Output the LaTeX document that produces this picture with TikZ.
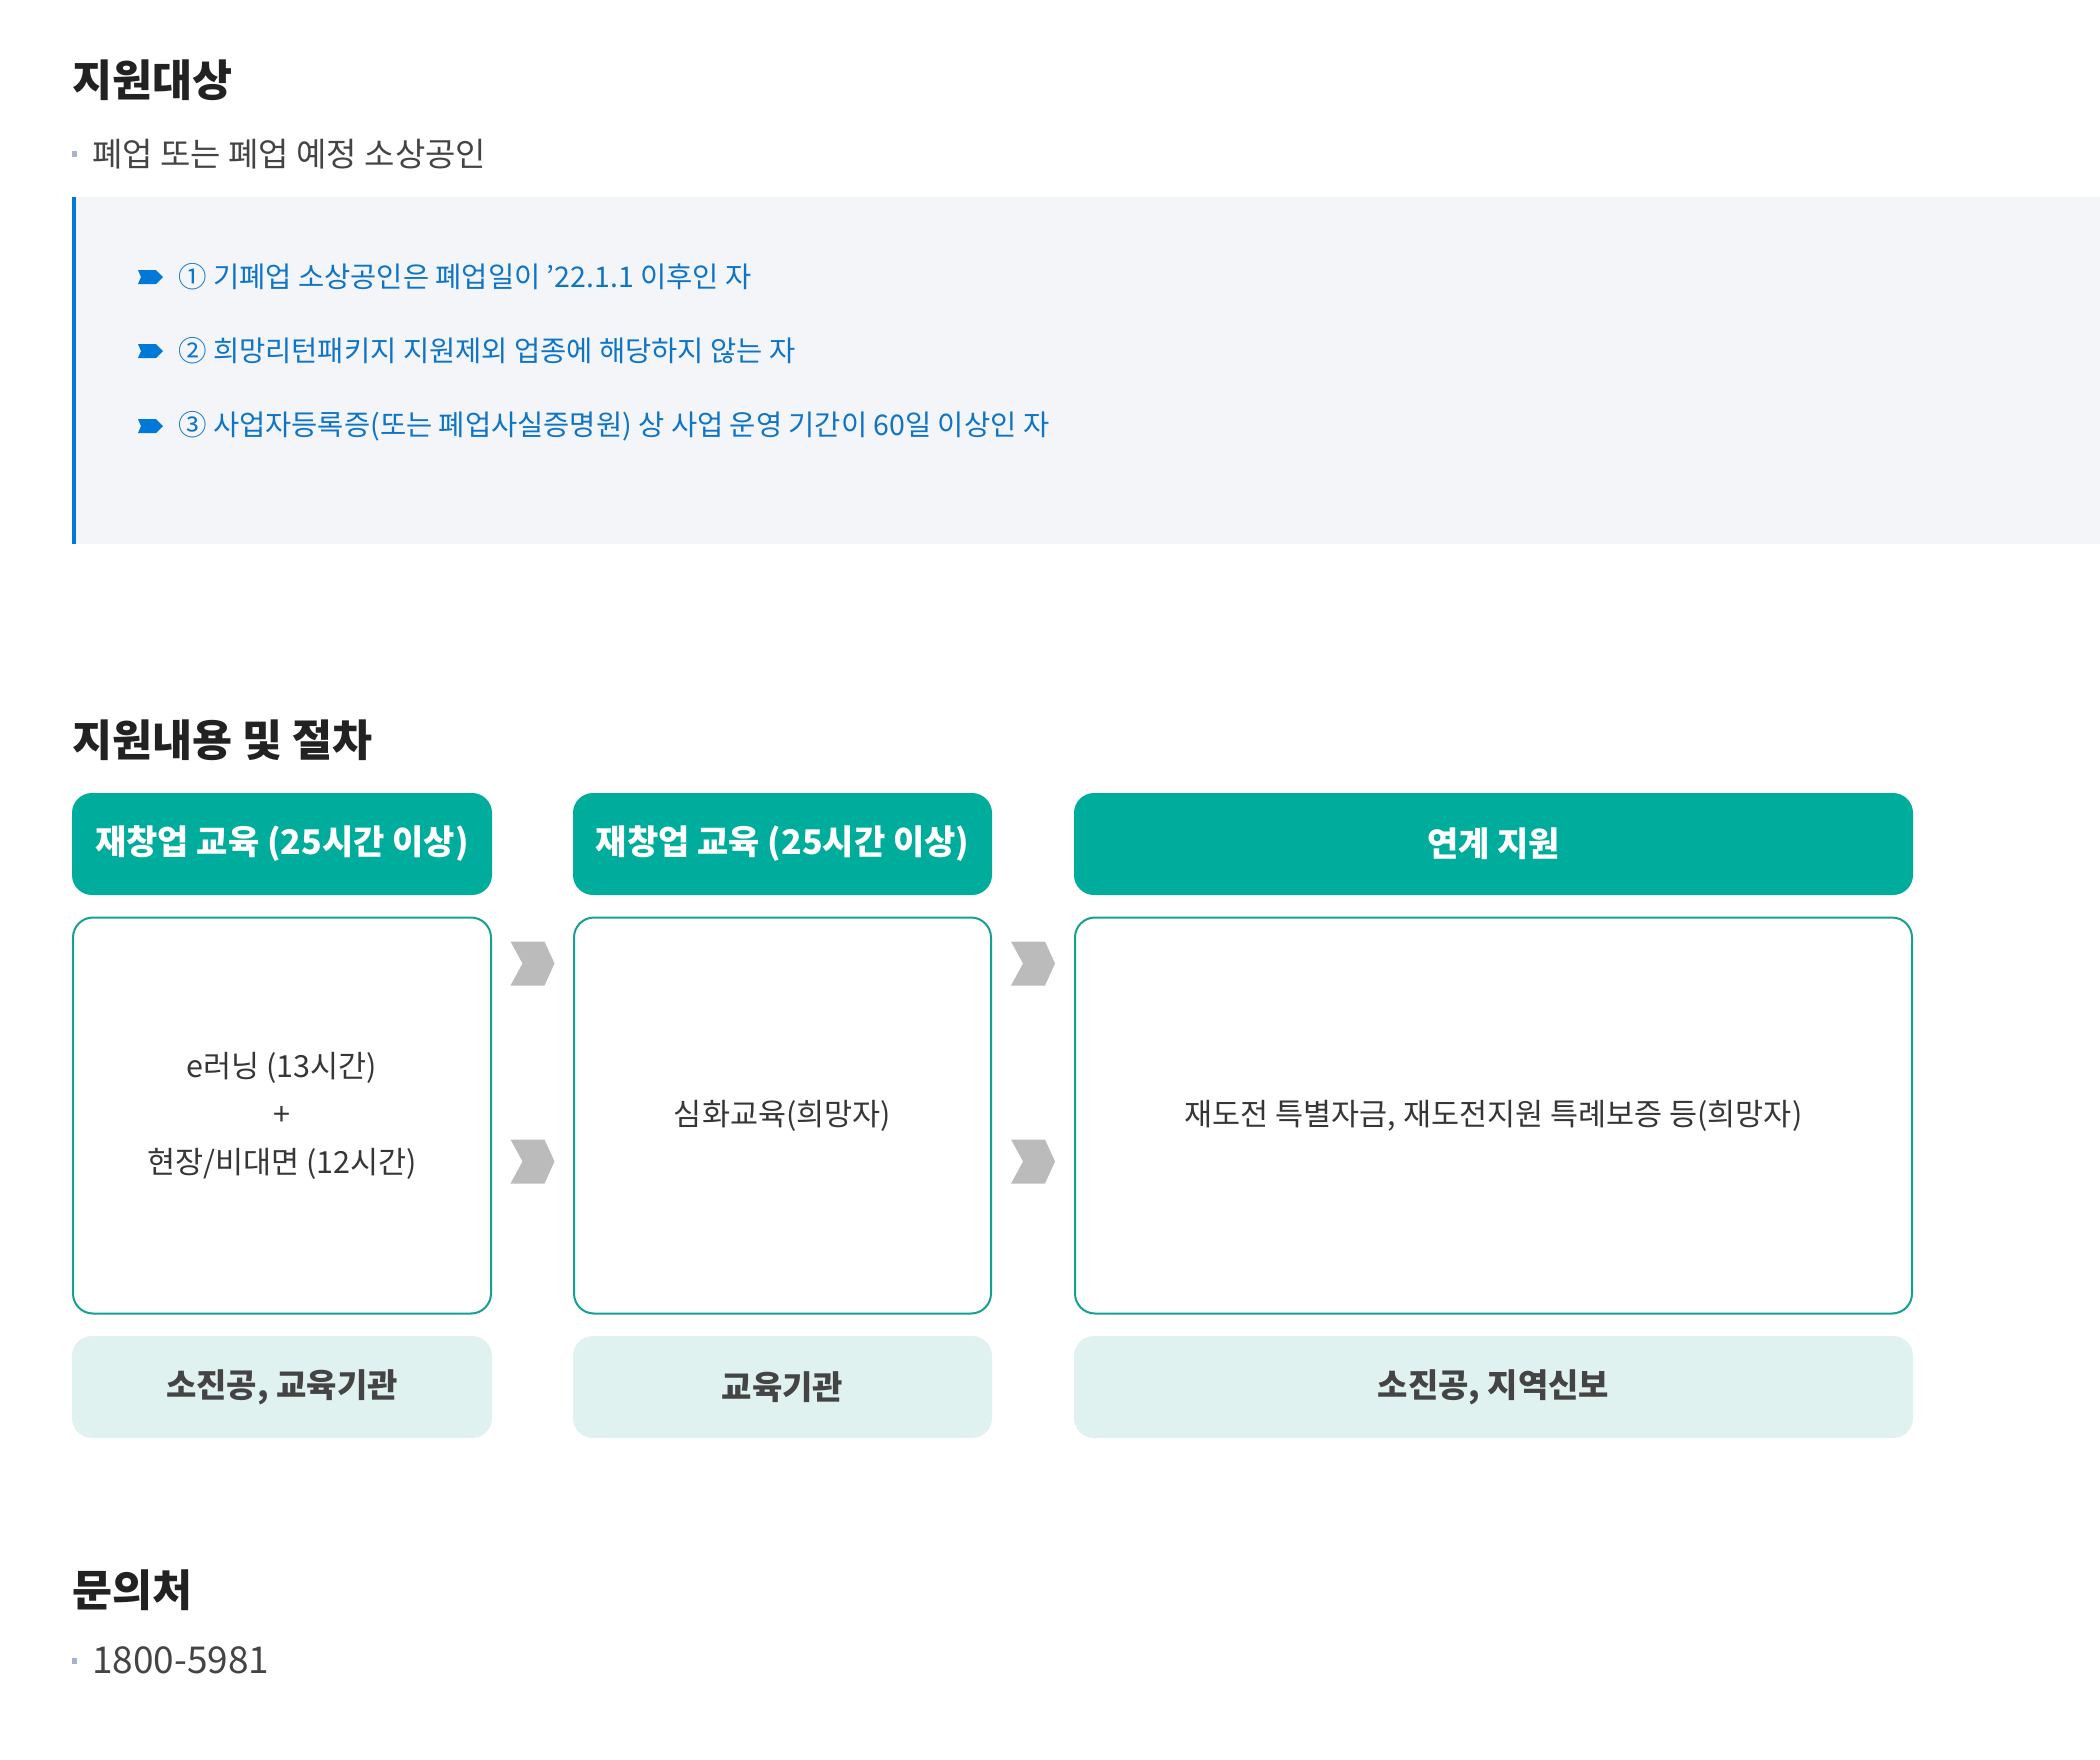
\documentclass[tikz,border=0pt]{standalone}
\usepackage{fontspec}
\setmainfont{Noto Sans CJK KR}
\definecolor{headblack}{RGB}{34, 34, 34}
\definecolor{bodygray}{RGB}{68, 68, 68}
\definecolor{dotgray}{RGB}{168, 178, 200}
\definecolor{panelgray}{RGB}{243, 245, 249}
\definecolor{lineblue}{RGB}{0, 120, 215}
\definecolor{itemblue}{RGB}{14, 116, 198}
\definecolor{teal1}{RGB}{0, 173, 156}
\definecolor{tealline}{RGB}{22, 160, 145}
\definecolor{teallight}{RGB}{224, 242, 240}
\definecolor{chevgray}{RGB}{187, 187, 187}
\usetikzlibrary{calc}

\tikzset{
  heading/.style={anchor=west, inner sep=0pt, text=headblack, font=\fontsize{43.5}{52}\selectfont\bfseries},
  bodyline/.style={anchor=west, inner sep=0pt, text=bodygray, font=\fontsize{33}{40}\selectfont},
  itemline/.style={anchor=west, inner sep=0pt, text=itemblue, font=\fontsize{28.5}{36}\selectfont},
  headbox/.style={fill=teal1, rounded corners=20pt, minimum height=102pt, text=white, font=\fontsize{34}{40}\selectfont\bfseries, inner sep=0pt},
  stepcard/.style={draw=tealline, line width=2pt, fill=white, rounded corners=20pt, minimum height=396pt, align=center, text=bodygray!80!black, font=\fontsize{30.5}{48}\selectfont, inner sep=0pt},
  orgbox/.style={fill=teallight, rounded corners=20pt, minimum height=102pt, text=bodygray, font=\fontsize{33}{40}\selectfont\bfseries, inner sep=0pt},
  chevron/.style={fill=chevgray},
  itemmark/.style={fill=lineblue},
  dotmark/.style={fill=dotgray}
}

\begin{document}
\begin{tikzpicture}[x=1pt, y=-1pt]
  \fill[white] (0,0) rectangle (2100,1759);
  \useasboundingbox (0,0) rectangle (2100,1759);

  % Target group
  \node[heading] (target) at (72, 80) {지원대상};
  \fill[dotmark] (72, 151) rectangle (77, 157);
  \node[bodyline] (targetline) at (92, 154) {폐업 또는 폐업 예정 소상공인};

  % Conditions panel
  \fill[panelgray] (72, 197) rectangle (2100, 544);
  \fill[lineblue] (72, 197) rectangle (76, 544);
  \foreach \y/\txt [count=\i] in {277/{① 기폐업 소상공인은 폐업일이 ’22.1.1 이후인 자},
      351/{② 희망리턴패키지 지원제외 업종에 해당하지 않는 자},
      426/{③ 사업자등록증(또는 폐업사실증명원) 상 사업 운영 기간이 60일 이상인 자}} {
    \fill[itemmark] (138, \y-7) -- (156, \y-7) -- (163, \y) -- (156, \y+7) -- (138, \y+7) -- (141, \y) -- cycle;
    \node[itemline] (cond\i) at (178, \y) {\txt};
  }

  % Support and procedure
  \node[heading] (procedure) at (72, 740) {지원내용 및 절차};

  \node[headbox, minimum width=420pt] (head1) at (282, 844) {재창업 교육 (25시간 이상)};
  \node[headbox, minimum width=419pt] (head2) at (782.5, 844) {재창업 교육 (25시간 이상)};
  \node[headbox, minimum width=839pt] (head3) at (1493.5, 844) {연계 지원};

  \node[stepcard, minimum width=418pt] (card1) at (282, 1115.5) {e러닝 (13시간)\\+\\현장/비대면 (12시간)};
  \node[stepcard, minimum width=417pt] (card2) at (782.5, 1115.5) {심화교육(희망자)};
  \node[stepcard, minimum width=837pt] (card3) at (1493.5, 1115.5) {재도전 특별자금, 재도전지원 특례보증 등(희망자)};

  \node[orgbox, minimum width=420pt] (org1) at (282, 1387) {소진공, 교육기관};
  \node[orgbox, minimum width=419pt] (org2) at (782.5, 1387) {교육기관};
  \node[orgbox, minimum width=839pt] (org3) at (1493.5, 1387) {소진공, 지역신보};

  % Chevrons between the cards
  \foreach \a/\b in {card1/card2, card2/card3} {
    \foreach \dy in {47, 245} {
      \coordinate (mid) at ($(\a.north east)!0.5!(\b.north west) + (0, \dy)$);
      \fill[chevron, shift={(mid)}] (-22,-22) -- (12,-22) -- (22,0) -- (12,22) -- (-22,22) -- (-10,0) -- cycle;
    }
  }

  % Contact
  \node[heading] (contact) at (72, 1590) {문의처};
  \fill[dotmark] (72, 1658) rectangle (77, 1664);
  \node[bodyline, font=\fontsize{37}{44}\selectfont] (phone) at (92, 1660) {1800-5981};
\end{tikzpicture}
\end{document}
